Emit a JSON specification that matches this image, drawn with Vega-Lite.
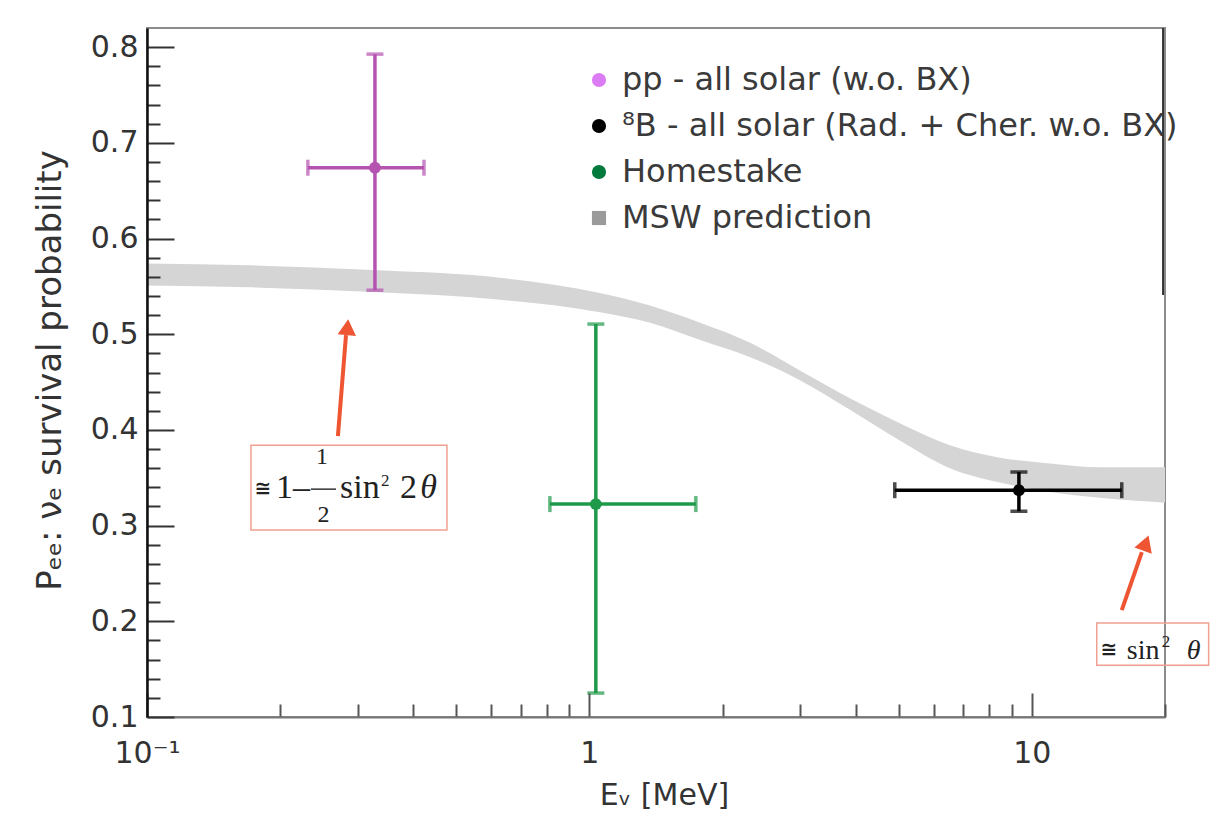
{
  "$schema": "https://vega.github.io/schema/vega-lite/v6.json",
  "width": 1018,
  "height": 689,
  "autosize": {"type": "none"},
  "padding": {"left": 147, "top": 28, "right": 46, "bottom": 107},
  "background": "white",
  "config": {
    "font": "DejaVu Sans",
    "view": {"stroke": "#8c8c8c", "strokeWidth": 2},
    "axis": {"grid": false, "labelFont": "DejaVu Sans", "titleFont": "DejaVu Sans", "labelColor": "#333333", "titleColor": "#333333", "titleFontWeight": "normal"},
    "legend": {
      "orient": "none", "legendX": 436, "legendY": 36,
      "labelFont": "DejaVu Sans", "labelFontSize": 32, "labelColor": "#3a3a3a",
      "symbolSize": 200, "symbolOpacity": 1, "labelOffset": 7, "rowPadding": 14, "padding": 0, "labelLimit": 0
    }
  },
  "datasets": {
    "band": [
      {"E": 0.1, "lo": 0.551, "hi": 0.574},
      {"E": 0.171, "lo": 0.549, "hi": 0.572},
      {"E": 0.324, "lo": 0.544, "hi": 0.567},
      {"E": 0.628, "lo": 0.536, "hi": 0.559},
      {"E": 1.056, "lo": 0.523, "hi": 0.543},
      {"E": 1.37, "lo": 0.512, "hi": 0.530},
      {"E": 1.78, "lo": 0.494, "hi": 0.512},
      {"E": 2.31, "lo": 0.476, "hi": 0.491},
      {"E": 2.99, "lo": 0.452, "hi": 0.462},
      {"E": 3.88, "lo": 0.421, "hi": 0.433},
      {"E": 5.03, "lo": 0.389, "hi": 0.407},
      {"E": 6.53, "lo": 0.360, "hi": 0.384},
      {"E": 8.47, "lo": 0.345, "hi": 0.371},
      {"E": 10.98, "lo": 0.335, "hi": 0.365},
      {"E": 14.24, "lo": 0.329, "hi": 0.361},
      {"E": 20, "lo": 0.324, "hi": 0.361}
    ],
    "pts": [
      {"series": "pp - all solar (w.o. BX)", "E": 0.3275, "P": 0.674, "Elo": 0.231, "Ehi": 0.4227, "Plo": 0.546, "Phi": 0.7927},
      {"series": "⁸B - all solar (Rad. + Cher. w.o. BX)", "E": 9.35, "P": 0.337, "Elo": 4.9, "Ehi": 15.97, "Plo": 0.315, "Phi": 0.356},
      {"series": "Homestake", "E": 1.034, "P": 0.3225, "Elo": 0.814, "Ehi": 1.74, "Plo": 0.125, "Phi": 0.5106}
    ],
    "arrows": [
      {"id": "a1", "E1": 0.2701, "P1": 0.3935, "E2": 0.2817, "P2": 0.4991, "Eh": 0.2839, "Ph": 0.5074},
      {"id": "a2", "E1": 15.97, "P1": 0.2117, "E2": 17.73, "P2": 0.2723, "Eh": 18.1, "Ph": 0.2817}
    ],
    "boxes": [
      {"E1": 0.1718, "E2": 0.4764, "P1": 0.3841, "P2": 0.2953},
      {"E1": 14.02, "E2": 25.1, "P1": 0.1981, "P2": 0.1542}
    ],
    "fracbar": [{"E1": 0.2348, "E2": 0.2674, "P": 0.3381}],
    "notes": [
      {"t": "1–", "E": 0.1958, "P": 0.3287, "box": 1, "part": "main"},
      {"t": "sin", "E": 0.273, "P": 0.3287, "box": 1, "part": "main"},
      {"t": "2", "E": 0.3729, "P": 0.3287, "box": 1, "part": "main"},
      {"t": "θ", "E": 0.4145, "P": 0.3287, "box": 1, "part": "theta"},
      {"t": "2", "E": 0.3378, "P": 0.3413, "box": 1, "part": "sup"},
      {"t": "1", "E": 0.2485, "P": 0.3643, "box": 1, "part": "frac"},
      {"t": "2", "E": 0.2505, "P": 0.3037, "box": 1, "part": "frac"},
      {"t": "≅", "E": 0.1828, "P": 0.3381, "box": 1, "part": "approx"},
      {"t": "sin", "E": 16.4, "P": 0.1605, "box": 2, "part": "main"},
      {"t": "2", "E": 19.67, "P": 0.173, "box": 2, "part": "sup"},
      {"t": "θ", "E": 22.4, "P": 0.1605, "box": 2, "part": "theta"},
      {"t": "≅", "E": 14.93, "P": 0.17, "box": 2, "part": "approx"}
    ]
  },
  "layer": [
    {
      "data": {"name": "band"},
      "mark": {"type": "area", "color": "#d5d5d5", "interpolate": "monotone"},
      "encoding": {
        "x": {
          "field": "E", "type": "quantitative",
          "scale": {"type": "log", "domain": [0.1, 20], "nice": false},
          "axis": {
            "title": "Eᵥ [MeV]",
            "values": [0.1, 0.2, 0.3, 0.4, 0.5, 0.6, 0.7, 0.8, 0.9, 1, 2, 3, 4, 5, 6, 7, 8, 9, 10, 20],
            "tickCount": 100,
            "labelExpr": "datum.value == 0.1 ? '10⁻¹' : datum.value == 1 ? '1' : datum.value == 10 ? '10' : ''",
            "labelFontSize": 30, "labelPadding": 45, "labelFlush": false, "labelOverlap": false,
            "tickSize": {"condition": {"test": "indexof([0.1, 1, 10], datum.value) >= 0", "value": -24}, "value": -13},
            "tickColor": "#555555", "tickWidth": 2,
            "domainColor": "#777777", "domainWidth": 2,
            "titleFontSize": 30, "titleX": 517, "titleY": 78, "titleBaseline": "middle", "titleAlign": "center",
            "zindex": 1
          }
        },
        "y": {
          "field": "lo", "type": "quantitative",
          "scale": {"domain": [0.1, 0.82], "nice": false, "zero": false},
          "axis": {
            "title": "Pₑₑ:  νₑ survival probability",
            "values": [0.1, 0.12, 0.14, 0.16, 0.18, 0.2, 0.22, 0.24, 0.26, 0.28, 0.3, 0.32, 0.34, 0.36, 0.38, 0.4, 0.42, 0.44, 0.46, 0.48, 0.5, 0.52, 0.54, 0.56, 0.58, 0.6, 0.62, 0.64, 0.66, 0.68, 0.7, 0.72, 0.74, 0.76, 0.78, 0.8],
            "tickCount": 100,
            "labelExpr": "indexof([0.1, 0.2, 0.3, 0.4, 0.5, 0.6, 0.7, 0.8], datum.value) >= 0 ? format(datum.value, '.1f') : ''",
            "labelFontSize": 30, "labelPadding": 36, "labelOverlap": false,
            "tickSize": {"condition": {"test": "indexof([0.1, 0.2, 0.3, 0.4, 0.5, 0.6, 0.7, 0.8], datum.value) >= 0", "value": -27}, "value": -13},
            "tickColor": "#333333", "tickWidth": 2,
            "domainColor": "#111111", "domainWidth": 2.5,
            "titleFontSize": 34, "titleX": -97, "titleY": 342, "titleBaseline": "middle", "titleAlign": "center",
            "zindex": 1
          }
        },
        "y2": {"field": "hi"}
      }
    },
    {
      "data": {"name": "pts"},
      "mark": {"type": "rule", "strokeWidth": 3.5},
      "encoding": {
        "x": {"field": "E", "type": "quantitative"},
        "y": {"field": "Plo", "type": "quantitative"},
        "y2": {"field": "Phi"},
        "stroke": {"field": "series", "type": "nominal", "legend": null,
          "scale": {"domain": ["pp - all solar (w.o. BX)", "⁸B - all solar (Rad. + Cher. w.o. BX)", "Homestake"], "range": ["#b553b0", "#000000", "#1f9a4a"]}}
      }
    },
    {
      "data": {"name": "pts"},
      "mark": {"type": "rule", "strokeWidth": 3.5},
      "encoding": {
        "y": {"field": "P", "type": "quantitative"},
        "x": {"field": "Elo", "type": "quantitative"},
        "x2": {"field": "Ehi"},
        "stroke": {"field": "series", "type": "nominal", "legend": null}
      }
    },
    {
      "data": {"name": "pts"},
      "transform": [{"fold": ["Plo", "Phi"], "as": ["k", "Pv"]}],
      "mark": {"type": "tick", "orient": "horizontal", "size": 17, "thickness": 3.5},
      "encoding": {
        "x": {"field": "E", "type": "quantitative"},
        "y": {"field": "Pv", "type": "quantitative"},
        "fill": {"field": "series", "type": "nominal", "legend": null,
          "scale": {"domain": ["pp - all solar (w.o. BX)", "⁸B - all solar (Rad. + Cher. w.o. BX)", "Homestake"], "range": ["#b553b0", "#000000", "#1f9a4a"]}}
      }
    },
    {
      "data": {"name": "pts"},
      "transform": [{"fold": ["Elo", "Ehi"], "as": ["k", "Ev"]}],
      "mark": {"type": "tick", "orient": "vertical", "size": 16, "thickness": 3.5},
      "encoding": {
        "x": {"field": "Ev", "type": "quantitative"},
        "y": {"field": "P", "type": "quantitative"},
        "fill": {"field": "series", "type": "nominal", "legend": null}
      }
    },
    {
      "data": {"name": "pts"},
      "mark": {"type": "point", "filled": true, "size": 140, "opacity": 1},
      "encoding": {
        "x": {"field": "E", "type": "quantitative"},
        "y": {"field": "P", "type": "quantitative"},
        "fill": {"field": "series", "type": "nominal", "legend": null}
      }
    },
    {
      "data": {"name": "pts"},
      "transform": [{"filter": "false"}],
      "mark": {"type": "point", "filled": true, "opacity": 1},
      "encoding": {
        "x": {"field": "E", "type": "quantitative"},
        "y": {"field": "P", "type": "quantitative"},
        "color": {
          "field": "series", "type": "nominal",
          "scale": {"domain": ["pp - all solar (w.o. BX)", "⁸B - all solar (Rad. + Cher. w.o. BX)", "Homestake", "MSW prediction"], "range": ["#dc7cf4", "#000000", "#007a3d", "#9a9a9a"]},
          "legend": {"title": null}
        },
        "shape": {
          "field": "series", "type": "nominal",
          "scale": {"domain": ["pp - all solar (w.o. BX)", "⁸B - all solar (Rad. + Cher. w.o. BX)", "Homestake", "MSW prediction"], "range": ["circle", "circle", "circle", "square"]},
          "legend": {"title": null}
        }
      }
    },
    {
      "data": {"values": [{}]},
      "mark": {"type": "rule", "color": "#333333", "strokeWidth": 2},
      "encoding": {"x": {"datum": 19.8}, "y": {"datum": 0.82}, "y2": {"datum": 0.541}}
    },
    {
      "data": {"name": "arrows"},
      "mark": {"type": "rule", "color": "#ee5533", "strokeWidth": 4},
      "encoding": {
        "x": {"field": "E1", "type": "quantitative"},
        "y": {"field": "P1", "type": "quantitative"},
        "x2": {"field": "E2"},
        "y2": {"field": "P2"}
      }
    },
    {
      "data": {"name": "arrows"},
      "transform": [{"filter": "datum.id === 'a1'"}],
      "mark": {"type": "point", "shape": "triangle-up", "filled": true, "size": 340, "color": "#ee5533", "opacity": 1, "angle": 5},
      "encoding": {"x": {"field": "Eh", "type": "quantitative"}, "y": {"field": "Ph", "type": "quantitative"}}
    },
    {
      "data": {"name": "arrows"},
      "transform": [{"filter": "datum.id === 'a2'"}],
      "mark": {"type": "point", "shape": "triangle-up", "filled": true, "size": 340, "color": "#ee5533", "opacity": 1, "angle": 20},
      "encoding": {"x": {"field": "Eh", "type": "quantitative"}, "y": {"field": "Ph", "type": "quantitative"}}
    },
    {
      "data": {"name": "boxes"},
      "mark": {"type": "rect", "fill": null, "stroke": "#f0a090", "strokeWidth": 1.5},
      "encoding": {
        "x": {"field": "E1", "type": "quantitative"},
        "x2": {"field": "E2"},
        "y": {"field": "P1", "type": "quantitative"},
        "y2": {"field": "P2"}
      }
    },
    {
      "data": {"name": "fracbar"},
      "mark": {"type": "rule", "color": "#333333", "strokeWidth": 1.5},
      "encoding": {
        "x": {"field": "E1", "type": "quantitative"},
        "x2": {"field": "E2"},
        "y": {"field": "P", "type": "quantitative"}
      }
    },
    {
      "data": {"name": "notes"},
      "transform": [{"filter": "datum.box === 1 && datum.part === 'main'"}],
      "mark": {"type": "text", "font": "Liberation Serif", "fontSize": 34, "align": "left", "baseline": "alphabetic", "color": "#222222"},
      "encoding": {"x": {"field": "E", "type": "quantitative"}, "y": {"field": "P", "type": "quantitative"}, "text": {"field": "t"}}
    },
    {
      "data": {"name": "notes"},
      "transform": [{"filter": "datum.box === 2 && datum.part === 'main'"}],
      "mark": {"type": "text", "font": "Liberation Serif", "fontSize": 28, "align": "left", "baseline": "alphabetic", "color": "#222222"},
      "encoding": {"x": {"field": "E", "type": "quantitative"}, "y": {"field": "P", "type": "quantitative"}, "text": {"field": "t"}}
    },
    {
      "data": {"name": "notes"},
      "transform": [{"filter": "datum.box === 1 && datum.part === 'theta'"}],
      "mark": {"type": "text", "font": "Liberation Serif", "fontSize": 34, "fontStyle": "italic", "align": "left", "baseline": "alphabetic", "color": "#222222"},
      "encoding": {"x": {"field": "E", "type": "quantitative"}, "y": {"field": "P", "type": "quantitative"}, "text": {"field": "t"}}
    },
    {
      "data": {"name": "notes"},
      "transform": [{"filter": "datum.box === 2 && datum.part === 'theta'"}],
      "mark": {"type": "text", "font": "Liberation Serif", "fontSize": 28, "fontStyle": "italic", "align": "left", "baseline": "alphabetic", "color": "#222222"},
      "encoding": {"x": {"field": "E", "type": "quantitative"}, "y": {"field": "P", "type": "quantitative"}, "text": {"field": "t"}}
    },
    {
      "data": {"name": "notes"},
      "transform": [{"filter": "datum.part === 'sup'"}],
      "mark": {"type": "text", "font": "Liberation Serif", "fontSize": 17, "align": "left", "baseline": "alphabetic", "color": "#222222"},
      "encoding": {"x": {"field": "E", "type": "quantitative"}, "y": {"field": "P", "type": "quantitative"}, "text": {"field": "t"}}
    },
    {
      "data": {"name": "notes"},
      "transform": [{"filter": "datum.part === 'frac'"}],
      "mark": {"type": "text", "font": "Liberation Serif", "fontSize": 24, "align": "center", "baseline": "alphabetic", "color": "#222222"},
      "encoding": {"x": {"field": "E", "type": "quantitative"}, "y": {"field": "P", "type": "quantitative"}, "text": {"field": "t"}}
    },
    {
      "data": {"name": "notes"},
      "transform": [{"filter": "datum.part === 'approx'"}],
      "mark": {"type": "text", "font": "DejaVu Sans", "fontSize": 20, "fontWeight": "bold", "align": "center", "baseline": "middle", "color": "#222222"},
      "encoding": {"x": {"field": "E", "type": "quantitative"}, "y": {"field": "P", "type": "quantitative"}, "text": {"field": "t"}}
    }
  ]
}
